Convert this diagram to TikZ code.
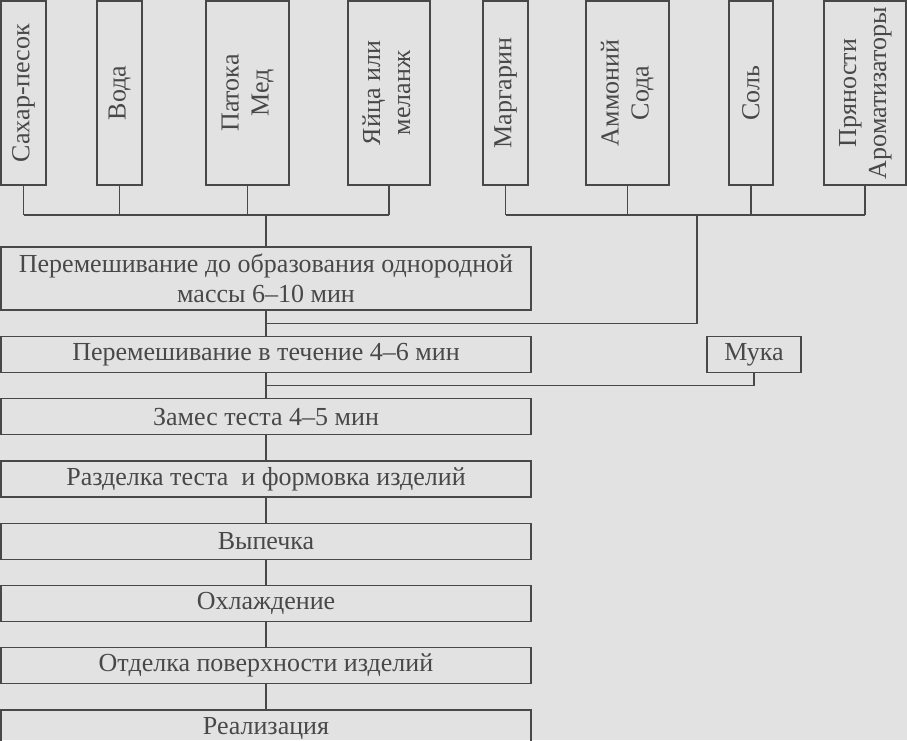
\documentclass[tikz,border=0pt]{standalone}
\usepackage{fontspec}
\setmainfont{Liberation Serif}
\usepackage{graphicx}
\usetikzlibrary{positioning,chains,calc}
\definecolor{paper}{RGB}{226,226,226}
\definecolor{ink}{RGB}{72,72,72}
\tikzset{%
  font=\fontsize{26}{30}\selectfont,
  ingr/.style={rectangle, draw=ink, line width=1.3pt, text=ink, inner sep=0pt, minimum height=184pt},
  stage/.style={rectangle, draw=ink, line width=1.3pt, text=ink, inner sep=0pt, align=center, minimum width=530pt, minimum height=36pt},
  line/.style={draw=ink, line width=1.3pt}
}
\newcommand{\twolines}[2]{\rotatebox{90}{\begin{tabular}{@{}c@{}}#1\\#2\end{tabular}}}

\begin{document}
\begin{tikzpicture}[x=1pt,y=-1pt]
\path[use as bounding box, fill=paper] (0,0) rectangle (907,740);

% ingredients, left group
\node[ingr, minimum width=45pt] (sugar) at (23.5,93) {\rotatebox{90}{Сахар-песок}};
\node[ingr, minimum width=45pt] (water) at (119.5,93) {\rotatebox{90}{Вода}};
\node[ingr, minimum width=83pt] (molasses) at (247.5,93) {\twolines{Патока}{Мед}};
\node[ingr, minimum width=82pt] (eggs) at (389,93) {\twolines{Яйца или}{меланж}};

% ingredients, right group
\node[ingr, minimum width=45pt] (margarine) at (505.5,93) {\rotatebox{90}{Маргарин}};
\node[ingr, minimum width=83pt] (soda) at (627.5,93) {\twolines{Аммоний}{Сода}};
\node[ingr, minimum width=44pt] (salt) at (751,93) {\rotatebox{90}{Соль}};
\node[ingr, minimum width=82pt] (spices) at (865,93) {\twolines{Пряности}{Ароматизаторы}};

\node[stage, minimum width=94pt] (flour) at (754,354.5) {Мука};

% process
\begin{scope}[start chain=going below, node distance=25pt, every node/.style={stage, on chain}]
\node[minimum height=63pt] (mix1) at (266,278.5) {Перемешивание до образования однородной\\массы 6–10 мин};
\node (mix2) {Перемешивание в течение 4–6 мин};
\node (knead) {Замес теста 4–5 мин};
\node (cut) {Разделка теста\ \ и формовка изделий};
\node (bake) {Выпечка};
\node (cool) {Охлаждение};
\node (decor) {Отделка поверхности изделий};
\node (sell) {Реализация};
\end{scope}

\coordinate (lbus) at (266,215);
\coordinate (rbus) at (697,215);

\foreach \n in {sugar,water,molasses,eggs}
  \draw[line] (\n.south) -- (\n.south |- lbus);
\draw[line] (sugar.south |- lbus) -- (eggs.south |- lbus);
\draw[line] (lbus) -- (mix1.north);

\foreach \n in {margarine,soda,salt,spices}
  \draw[line] (\n.south) -- (\n.south |- rbus);
\draw[line] (margarine.south |- rbus) -- (spices.south |- rbus);
\draw[line] (rbus) |- ($(mix1.south)!.5!(mix2.north)$);
\draw[line] (flour.south) |- ($(mix2.south)!.5!(knead.north)$);

\draw[line] (mix1) -- (mix2) -- (knead) -- (cut) -- (bake) -- (cool) -- (decor) -- (sell);
\end{tikzpicture}
\end{document}
